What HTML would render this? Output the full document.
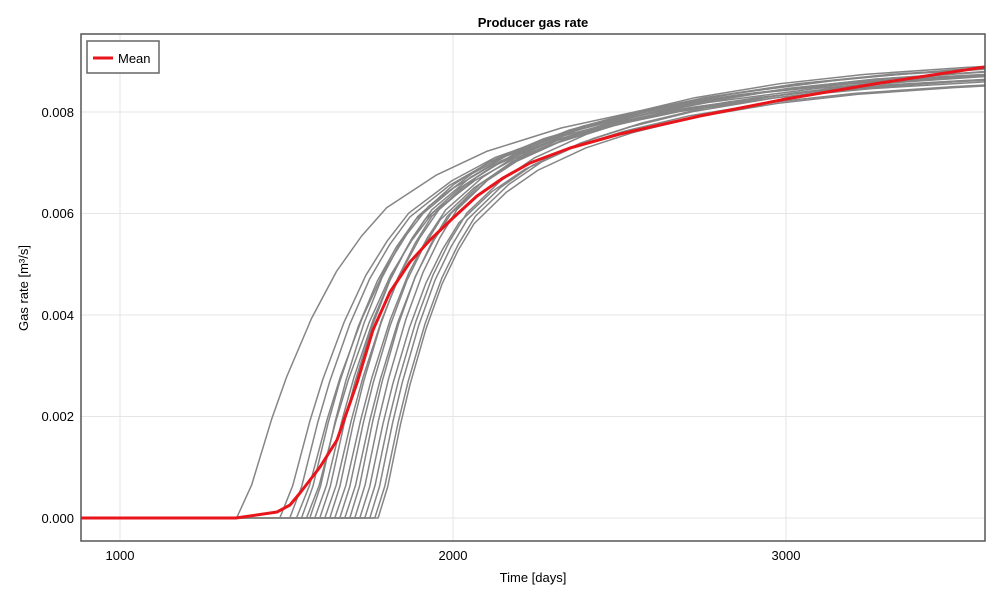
<!DOCTYPE html>
<html><head><meta charset="utf-8"><style>
html,body{margin:0;padding:0;background:#fff;}
svg text{font-family:"Liberation Sans",sans-serif;}
</style></head><body>
<svg width="1000" height="600" xmlns="http://www.w3.org/2000/svg">
<defs>
<clipPath id="c"><rect x="81" y="34" width="904" height="507"/></clipPath>
<path id="b" d="M-30,0 L0,0 L0.3,0.07 L0.7,0.21 L1,0.30 L1.5,0.425 L2,0.525 L2.5,0.60 L3,0.66 L4,0.73 L5,0.78 L6.5,0.83 L8,0.865 L10,0.90 L12.5,0.93 L15,0.95 L18,0.965 L22,0.98 L30,0.995" fill="none" stroke="#858585" stroke-width="1.5" stroke-linejoin="round" vector-effect="non-scaling-stroke"/>
</defs>
<rect width="1000" height="600" fill="#fff"/>
<g stroke="#e6e6e6" stroke-width="1">
<line x1="120" y1="34" x2="120" y2="541"/>
<line x1="453" y1="34" x2="453" y2="541"/>
<line x1="786" y1="34" x2="786" y2="541"/>
<line x1="81" y1="518" x2="985" y2="518"/>
<line x1="81" y1="416.5" x2="985" y2="416.5"/>
<line x1="81" y1="315" x2="985" y2="315"/>
<line x1="81" y1="213.5" x2="985" y2="213.5"/>
<line x1="81" y1="112" x2="985" y2="112"/>
</g>
<g clip-path="url(#c)">
<use href="#b" transform="translate(236.6,518) scale(50,-470)"/>
<use href="#b" transform="translate(279.8,518) scale(43,-462)"/>
<use href="#b" transform="translate(289.8,518) scale(40,-456)"/>
<use href="#b" transform="translate(296.5,518) scale(44,-472)"/>
<use href="#b" transform="translate(301.5,518) scale(38,-452)"/>
<use href="#b" transform="translate(306.5,518) scale(42,-462)"/>
<use href="#b" transform="translate(309.8,518) scale(36,-457)"/>
<use href="#b" transform="translate(314.8,518) scale(39,-467)"/>
<use href="#b" transform="translate(319.8,518) scale(35,-452)"/>
<use href="#b" transform="translate(324.8,518) scale(38,-467)"/>
<use href="#b" transform="translate(329.8,518) scale(34,-457)"/>
<use href="#b" transform="translate(334.8,518) scale(37,-467)"/>
<use href="#b" transform="translate(339.8,518) scale(33.5,-452)"/>
<use href="#b" transform="translate(344.8,518) scale(35.5,-462)"/>
<use href="#b" transform="translate(349.8,518) scale(32.5,-457)"/>
<use href="#b" transform="translate(354.8,518) scale(34,-467)"/>
<use href="#b" transform="translate(359.8,518) scale(33,-447)"/>
<use href="#b" transform="translate(364.8,518) scale(34,-462)"/>
<use href="#b" transform="translate(369.8,518) scale(32.5,-452)"/>
<use href="#b" transform="translate(374.8,518) scale(33.5,-457)"/>
<use href="#b" transform="translate(378.1,518) scale(32,-446)"/>
<polyline fill="none" stroke="#e8151b" stroke-width="3" stroke-linejoin="round" points="81,518 236,518 277,512 290,505 300,493 320,467 337,440 357,383 373,330 390,292 410,262 430,240 453,218 477,196 503,178 530,163 570,148 620,134 700,116 786,99 880,83 985,67"/>
</g>
<rect x="81" y="34" width="904" height="507" fill="none" stroke="#555" stroke-width="1.5"/>
<g font-size="13" fill="#000">
<text x="120" y="560" text-anchor="middle">1000</text>
<text x="453" y="560" text-anchor="middle">2000</text>
<text x="786" y="560" text-anchor="middle">3000</text>
<text x="74" y="523" text-anchor="end">0.000</text>
<text x="74" y="421" text-anchor="end">0.002</text>
<text x="74" y="320" text-anchor="end">0.004</text>
<text x="74" y="218" text-anchor="end">0.006</text>
<text x="74" y="117" text-anchor="end">0.008</text>
<text x="533" y="582" text-anchor="middle">Time [days]</text>
<text transform="translate(28,288) rotate(-90)" text-anchor="middle">Gas rate [m³/s]</text>
<text x="533" y="27" text-anchor="middle" font-weight="bold">Producer gas rate</text>
</g>
<rect x="87" y="41" width="72" height="32" fill="#fff" stroke="#666" stroke-width="1.5"/>
<line x1="93" y1="58" x2="113" y2="58" stroke="#e8151b" stroke-width="3"/>
<text x="118" y="63" font-size="13">Mean</text>
</svg>
</body></html>
